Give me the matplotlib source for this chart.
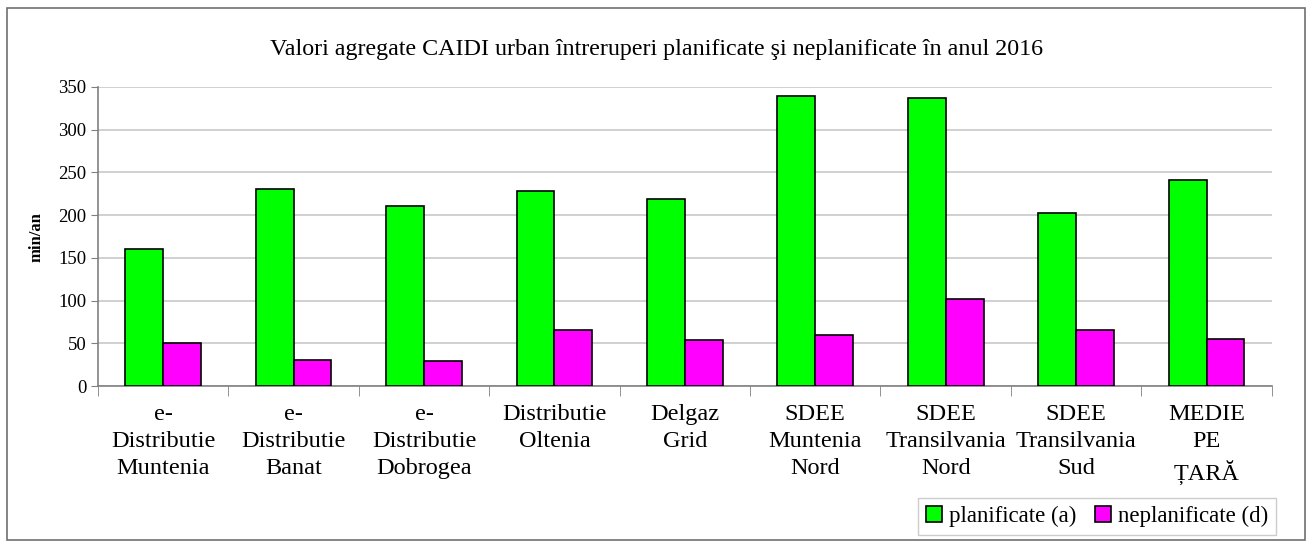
import matplotlib
matplotlib.use("Agg")
import numpy as np
import matplotlib.pyplot as plt
from matplotlib.patches import Rectangle

plt.rcParams['font.family'] = ['Liberation Serif', 'DejaVu Serif']

# data
categorii = ["e-\nDistributie\nMuntenia", "e-\nDistributie\nBanat", "e-\nDistributie\nDobrogea",
             "Distributie\nOltenia", "Delgaz\nGrid", "SDEE\nMuntenia\nNord",
             "SDEE\nTransilvania\nNord", "SDEE\nTransilvania\nSud", "MEDIE\nPE\nȚARĂ"]
planificate = [160, 231, 211, 228, 219, 340, 337, 203, 241]
neplanificate = [50, 31, 29, 66, 54, 60, 102, 66, 55]

fig = plt.figure(figsize=(13.13, 5.47), dpi=100)
ax = fig.add_axes([0.0746, 0.294, 0.894, 0.547])

x = np.arange(len(categorii))
w = 0.29
ax.bar(x - w/2, planificate, w, color='#00ff00', edgecolor='black', linewidth=1.2,
       label='planificate (a)', zorder=3)
ax.bar(x + w/2, neplanificate, w, color='#ff00ff', edgecolor='black', linewidth=1.2,
       label='neplanificate (d)', zorder=3)

ax.set_xlim(-0.5, len(categorii) - 0.5)
ax.set_ylim(0, 350)
ax.set_yticks(np.arange(0, 351, 50))
ax.yaxis.grid(True, color='#c8c8c8', linewidth=1.2, zorder=0)
ax.tick_params(axis='y', labelsize=13.5, length=5, color='#808080')

ax.set_xticks(x)
ax.set_xticklabels(categorii, fontsize=17.5, linespacing=1.38)
ax.tick_params(axis='x', length=0, pad=13)
ax.set_xticks(np.arange(-0.5, len(categorii)), minor=True)
ax.tick_params(axis='x', which='minor', length=7, color='#808080')

for s in ['top', 'right']:
    ax.spines[s].set_visible(False)
for s in ['left', 'bottom']:
    ax.spines[s].set_color('#808080')
    ax.spines[s].set_linewidth(1.2)

ax.set_ylabel('min/an', fontsize=12, fontweight='bold', labelpad=10)

fig.text(0.5, 0.91, 'Valori agregate CAIDI urban întreruperi planificate şi neplanificate în anul 2016',
         ha='center', va='center', fontsize=17.3)

leg = fig.legend(loc='lower right', bbox_to_anchor=(0.972, 0.022), ncol=2, fontsize=16.5,
                 frameon=True, fancybox=False, edgecolor='#c0c0c0', handlelength=0.7,
                 handleheight=0.7, handletextpad=0.3, columnspacing=0.8, borderpad=0.35,
                 borderaxespad=0)
leg.get_frame().set_linewidth(1.0)

fig.patches.append(Rectangle((7/1313, 7/547), 1298/1313, 532/547, transform=fig.transFigure,
                             fill=False, edgecolor='#707070', linewidth=1.2))

fig.savefig('out.png', dpi=100)
